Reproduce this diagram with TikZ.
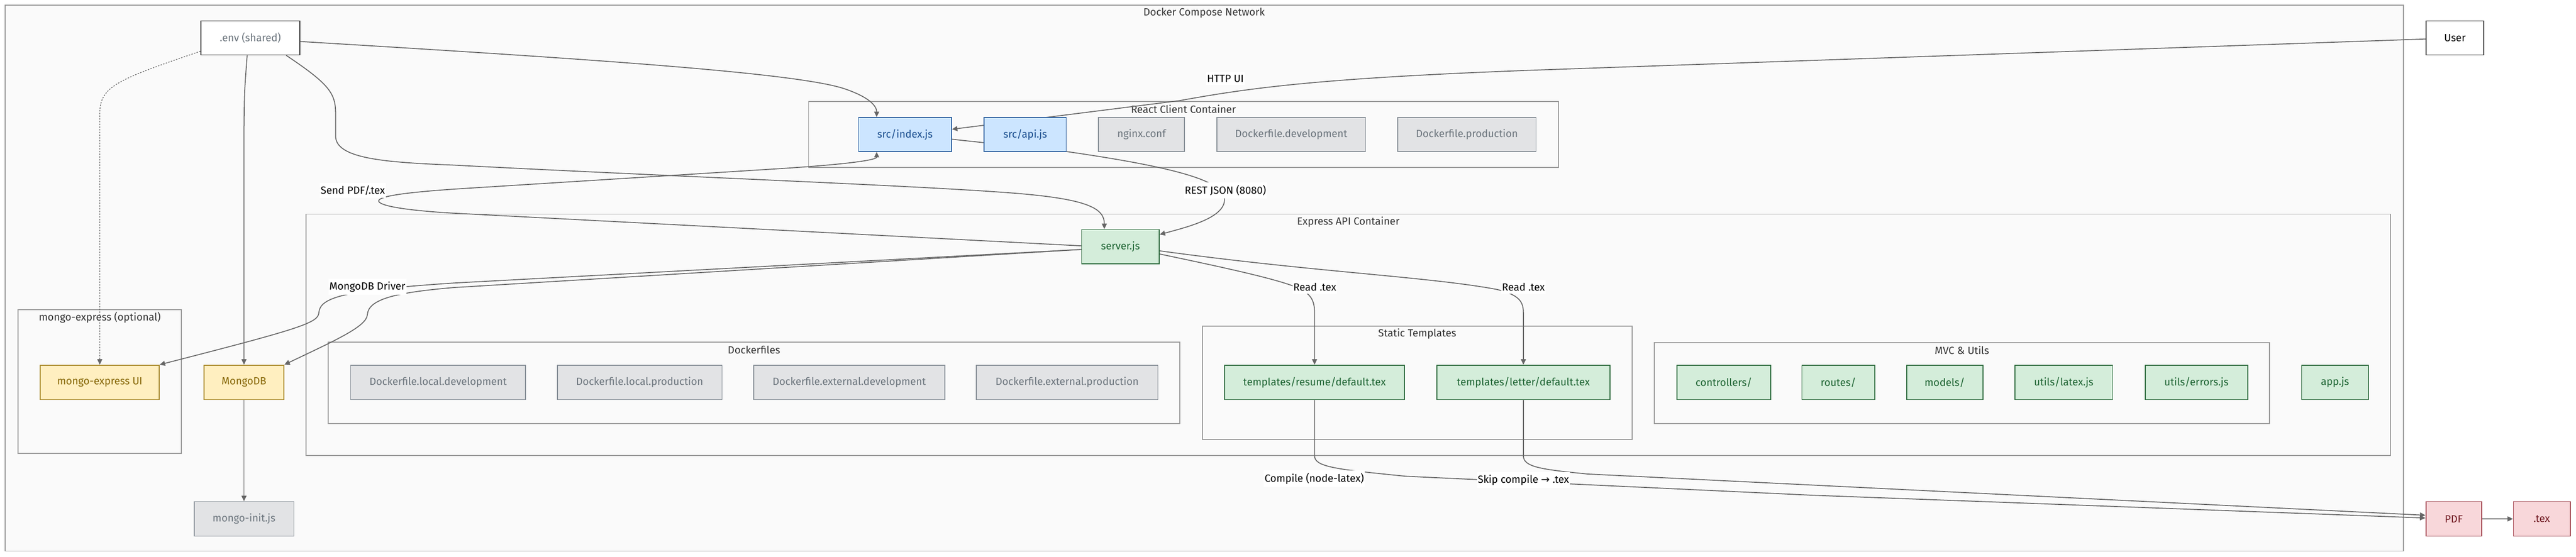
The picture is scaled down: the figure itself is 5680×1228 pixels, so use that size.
\documentclass[tikz,border=0pt]{standalone}
\usepackage{fontspec}
\setmainfont{Fira Sans}
\newfontfamily\symfont{DejaVu Sans}
\usetikzlibrary{arrows.meta,calc}
\pgfdeclarelayer{bg}
\pgfdeclarelayer{edges}
\pgfsetlayers{bg,edges,main}
\definecolor{edgec}{HTML}{666666}
\definecolor{grpline}{HTML}{9A9A9A}
\definecolor{grpfill}{HTML}{FAFAFA}
\definecolor{titlec}{HTML}{333333}
\definecolor{bluefill}{HTML}{CCE5FF}
\definecolor{blueline}{HTML}{2C5F9E}
\definecolor{bluetext}{HTML}{1A4D8F}
\definecolor{greenfill}{HTML}{D4EDDA}
\definecolor{greenline}{HTML}{2E6B3E}
\definecolor{greentext}{HTML}{1E6433}
\definecolor{yellowfill}{HTML}{FFEFC0}
\definecolor{yellowline}{HTML}{A8882A}
\definecolor{yellowtext}{HTML}{856404}
\definecolor{grayfill}{HTML}{E2E3E5}
\definecolor{grayline}{HTML}{868E96}
\definecolor{graytext}{HTML}{6C757D}
\definecolor{redfill}{HTML}{F8D7DA}
\definecolor{redline}{HTML}{9E3F4A}
\definecolor{redtext}{HTML}{721C24}
\definecolor{plainline}{HTML}{333333}
\tikzset{
  basefont/.style={font=\fontsize{11.5}{14}\selectfont},
  grp/.style={draw=grpline, fill=grpfill, line width=1pt},
  grptitle/.style={basefont, text=titlec, inner sep=0pt},
  nbox/.style={basefont, draw, line width=1pt, inner sep=0pt},
  bluebox/.style={nbox, fill=bluefill, draw=blueline, text=bluetext},
  greenbox/.style={nbox, fill=greenfill, draw=greenline, text=greentext},
  yellowbox/.style={nbox, fill=yellowfill, draw=yellowline, text=yellowtext},
  graybox/.style={nbox, fill=grayfill, draw=grayline, text=graytext},
  redbox/.style={nbox, fill=redfill, draw=redline, text=redtext},
  envbox/.style={nbox, fill=white, draw=plainline, text=graytext},
  userbox/.style={nbox, fill=white, draw=plainline, text=black},
  conn/.style={draw=edgec, line width=1pt, -{Triangle[length=6pt,width=5.5pt]}},
  dotconn/.style={conn, line width=0.8pt, dash pattern=on 1.5pt off 1.5pt},
  elabel/.style={basefont, fill=white, text=black, inner xsep=1pt, inner ysep=3pt}
}
% \mkbox{style}{name}{x1}{x2}{y1}{y2}{text}
\newcommand{\mkbox}[7]{\node[#1, minimum width={(#4-#3)*0.5pt}, minimum height={(#6-#5)*0.5pt}] (#2) at ({(#3+#4)/2},{(#5+#6)/2}) {#7};}
% \mkgrp{name}{x1}{x2}{y1}{y2}{title}
\newcommand{\mkgrp}[6]{\path[grp] (#2,#4) rectangle (#3,#5); \node[grptitle] (#1) at ({(#2+#3)/2},{#4+17}) {#6};}
\begin{document}
\begin{tikzpicture}[x=0.5pt,y=-0.5pt]
\useasboundingbox (0,0) rectangle (5680,1228);
\begin{pgfonlayer}{bg}
\fill[white] (0,0) rectangle (5680,1228);
\mkgrp{gnet}{11}{5299}{11}{1215}{Docker Compose Network}
\mkgrp{greact}{1783}{3436}{224}{369}{React Client Container}
\mkgrp{gexpress}{675}{5271}{472}{1004}{Express API Container}
\mkgrp{gmongo}{40}{400}{683}{1000}{mongo-express (optional)}
\mkgrp{gdocker}{724}{2601}{754}{934}{Dockerfiles}
\mkgrp{gstatic}{2651}{3599}{719}{969}{Static Templates}
\mkgrp{gmvc}{3648}{5004}{755}{934}{MVC \& Utils}
\end{pgfonlayer}
% nodes
\mkbox{envbox}{env}{443}{661}{46}{121}{.env (shared)}
\mkbox{userbox}{user}{5349}{5477}{46}{121}{User}
\mkbox{bluebox}{index}{1893}{2098}{259}{334}{src/index.js}
\mkbox{bluebox}{api}{2170}{2351}{259}{334}{src/api.js}
\mkbox{graybox}{nginx}{2422}{2612}{259}{334}{nginx.conf}
\mkbox{graybox}{dfdev}{2683}{3011}{259}{334}{Dockerfile.development}
\mkbox{graybox}{dfprod}{3082}{3387}{259}{334}{Dockerfile.production}
\mkbox{greenbox}{server}{2385}{2556}{506}{582}{server.js}
\mkbox{yellowbox}{meui}{89}{351}{805}{881}{mongo-express UI}
\mkbox{yellowbox}{mongodb}{450}{626}{805}{881}{MongoDB}
\mkbox{graybox}{dld}{773}{1159}{805}{881}{Dockerfile.local.development}
\mkbox{graybox}{dlp}{1229}{1592}{805}{881}{Dockerfile.local.production}
\mkbox{graybox}{ded}{1662}{2083}{805}{881}{Dockerfile.external.development}
\mkbox{graybox}{dep}{2153}{2553}{805}{881}{Dockerfile.external.production}
\mkbox{greenbox}{tres}{2700}{3097}{805}{881}{templates/resume/default.tex}
\mkbox{greenbox}{tlet}{3168}{3550}{805}{881}{templates/letter/default.tex}
\mkbox{greenbox}{ctrl}{3698}{3904}{805}{881}{controllers/}
\mkbox{greenbox}{routes}{3973}{4134}{805}{881}{routes/}
\mkbox{greenbox}{models}{4204}{4372}{805}{881}{models/}
\mkbox{greenbox}{ulatex}{4443}{4658}{805}{881}{utils/latex.js}
\mkbox{greenbox}{uerr}{4730}{4956}{805}{881}{utils/errors.js}
\mkbox{greenbox}{appjs}{5075}{5222}{805}{881}{app.js}
\mkbox{graybox}{minit}{428}{648}{1106}{1182}{mongo-init.js}
\mkbox{redbox}{pdf}{5349}{5472}{1106}{1182}{PDF}
\mkbox{redbox}{tex}{5542}{5667}{1106}{1182}{.tex}
% edges
\begin{pgfonlayer}{edges}
\draw[conn] ($(env.east)+(0,8)$) .. controls (1300,130) and (1750,160) .. (1860,195) .. controls (1920,215) and (1933,235) .. ($(index.north)+(-62.5,0)$);
\draw[conn] ($(env.south)+(-7,0)$) .. controls (539,200) .. (538,280) -- (mongodb.north);
\draw[dotconn] ($(env.west)+(0,29.5)$) .. controls (260,175) and (220,190) .. (220,250) -- (meui.north);
\draw[conn] ($(env.south)+(79,0)$) .. controls (725,185) and (740,205) .. (740,250) -- (740,300) .. controls (740,350) and (850,358) .. (1000,364) .. controls (1500,390) and (2050,410) .. (2250,427) .. controls (2400,440) and (2435,460) .. ($(server.north)+(-35.5,0)$);
\draw[conn] ($(user.west)+(0,2.5)$) -- (3400,154) .. controls (2900,172) and (2750,195) .. (2600,222) -- ($(index.east)+(0,-11.5)$);
\draw[conn] ($(index.east)+(0,10.5)$) -- (2351,334) .. controls (2600,370) and (2700,400) .. (2700,440) .. controls (2700,480) and (2620,500) .. ($(server.east)+(0,-27)$);
\draw[conn] ($(server.west)+(0,-2)$) -- (1000,470) .. controls (880,463) and (835,452) .. (835,443) .. controls (835,432) and (900,424) .. (1000,417) -- (1700,373) .. controls (1880,362) and (1933,352) .. ($(index.south)+(-62.5,0)$);
\draw[conn] ($(server.west)+(0,6)$) -- (1000,624) .. controls (760,640) and (705,655) .. (703,690) .. controls (701,712) and (660,725) .. (meui.north east);
\draw[conn] ($(server.west)+(0,6)$) -- (1000,634) .. controls (870,645) and (812,660) .. (810,694) .. controls (808,720) and (740,750) .. (mongodb.north east);
\draw[conn] ($(server.east)+(0,16)$) .. controls (2700,590) and (2800,612) .. (2850,630) .. controls (2890,645) and (2898.5,660) .. (2898.5,690) -- (tres.north);
\draw[conn] ($(server.east)+(0,9)$) .. controls (2900,600) and (3150,610) .. (3300,638) .. controls (3350,650) and (3359,665) .. (3359,690) -- (tlet.north);
\draw[conn] (tres.south) -- (2898.5,1005) .. controls (2898.5,1030) and (2950,1035) .. (3100,1050) -- (4000,1092) -- ($(pdf.west)+(0,-2)$);
\draw[conn] (tlet.south) -- (3359,1005) .. controls (3359,1030) and (3400,1035) .. (3500,1045) -- ($(pdf.west)+(0,-8)$);
\draw[conn] (pdf.east) -- (tex.west);
\draw[conn] (mongodb.south) -- (minit.north);
\end{pgfonlayer}
% edge labels
\node[elabel] (lhttp) at (2702,173) {HTTP UI};
\node[elabel] (lrest) at (2702,420) {REST JSON (8080)};
\node[elabel] (lsend) at (778,420) {Send PDF/.tex};
\node[elabel] (ldriver) at (810,632) {MongoDB Driver};
\node[elabel] (lread1) at (2899,633) {Read .tex};
\node[elabel] (lread2) at (3359,633) {Read .tex};
\node[elabel] (lcompile) at (2898,1055) {Compile (node-latex)};
\node[elabel] (lskip) at (3359,1058) {Skip compile {\symfont →} .tex};
\end{tikzpicture}
\end{document}
